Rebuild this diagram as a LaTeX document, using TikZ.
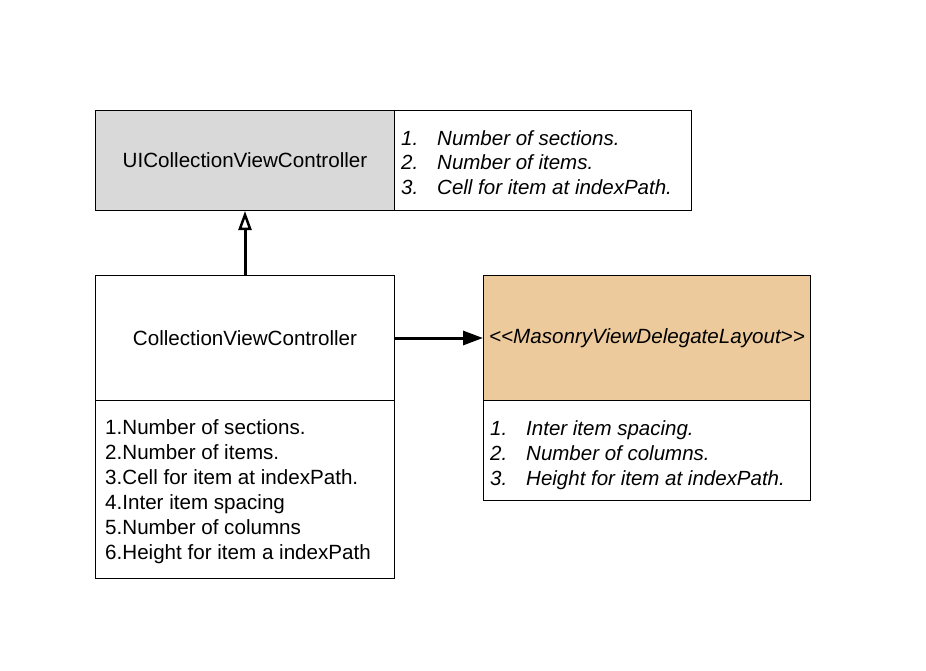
\documentclass[tikz,border=0pt]{standalone}
\usepackage{fontspec}
\setmainfont{Liberation Sans}
\usetikzlibrary{arrows.meta}
\definecolor{boxgray}{HTML}{D9D9D9}
\definecolor{boxorange}{HTML}{EDCA9C}
\begin{document}
\begin{tikzpicture}[x=1pt,y=-1pt,
  box/.style={draw=black, line width=1pt, inner sep=0pt, anchor=north west, align=center},
  wtext/.style={font=\fontsize{20.6}{24}\selectfont},
  itext/.style={font=\itshape\fontsize{20.5}{24}\selectfont},
  ltext/.style={inner sep=0pt, anchor=base west},
  conn/.style={line width=3pt}
]
\useasboundingbox[fill=white] (0,0) rectangle (926,670);
% top boxes
\node[box, fill=boxgray, minimum width=299pt, minimum height=100pt, wtext] (uic) at (95,110) {UICollectionViewController};
\node[box, fill=white, minimum width=297pt, minimum height=100pt] (uicl) at (394,110) {};
% collection view controller
\node[box, fill=white, minimum width=299pt, minimum height=125pt, wtext] (cvc) at (95,275) {CollectionViewController};
\node[box, fill=white, minimum width=299pt, minimum height=178pt] (cvcl) at (95,400) {};
% masonry
\node[box, fill=boxorange, minimum width=327pt, minimum height=125pt, font=\itshape\fontsize{20.6}{24}\selectfont] (mvd) at (483,275) {<{}<MasonryViewDelegateLayout>{}>};
\node[box, fill=white, minimum width=327pt, minimum height=100pt] (mvdl) at (483,400) {};
% top-right list
\node[ltext, itext] (u1n) at (401,145) {1.};
\node[ltext, itext] (u1t) at (437,145) {Number of sections.};
\node[ltext, itext] (u2n) at (401,169.5) {2.};
\node[ltext, itext] (u2t) at (437,169.5) {Number of items.};
\node[ltext, itext] (u3n) at (401,194) {3.};
\node[ltext, itext] (u3t) at (437,194) {Cell for item at indexPath.};
% masonry list
\node[ltext, itext] (m1n) at (490,435) {1.};
\node[ltext, itext] (m1t) at (526,435) {Inter item spacing.};
\node[ltext, itext] (m2n) at (490,460) {2.};
\node[ltext, itext] (m2t) at (526,460) {Number of columns.};
\node[ltext, itext] (m3n) at (490,485) {3.};
\node[ltext, itext] (m3t) at (526,485) {Height for item at indexPath.};
% left list
\node[ltext, wtext] (c1) at (105,434) {1.Number of sections.};
\node[ltext, wtext] (c2) at (105,459) {2.Number of items.};
\node[ltext, wtext] (c3) at (105,484) {3.Cell for item at indexPath.};
\node[ltext, wtext] (c4) at (105,509) {4.Inter item spacing};
\node[ltext, wtext] (c5) at (105,534) {5.Number of columns};
\node[ltext, wtext] (c6) at (105,559) {6.Height for item a indexPath};
% connectors
\draw[conn, -{Triangle[open, length=19pt, width=13pt, line width=2.5pt]}] (cvc.north) -- (uic.south);
\draw[conn, -{Triangle[length=20pt, width=14pt]}] (cvc.east) -- (mvd.west);
\end{tikzpicture}
\end{document}
